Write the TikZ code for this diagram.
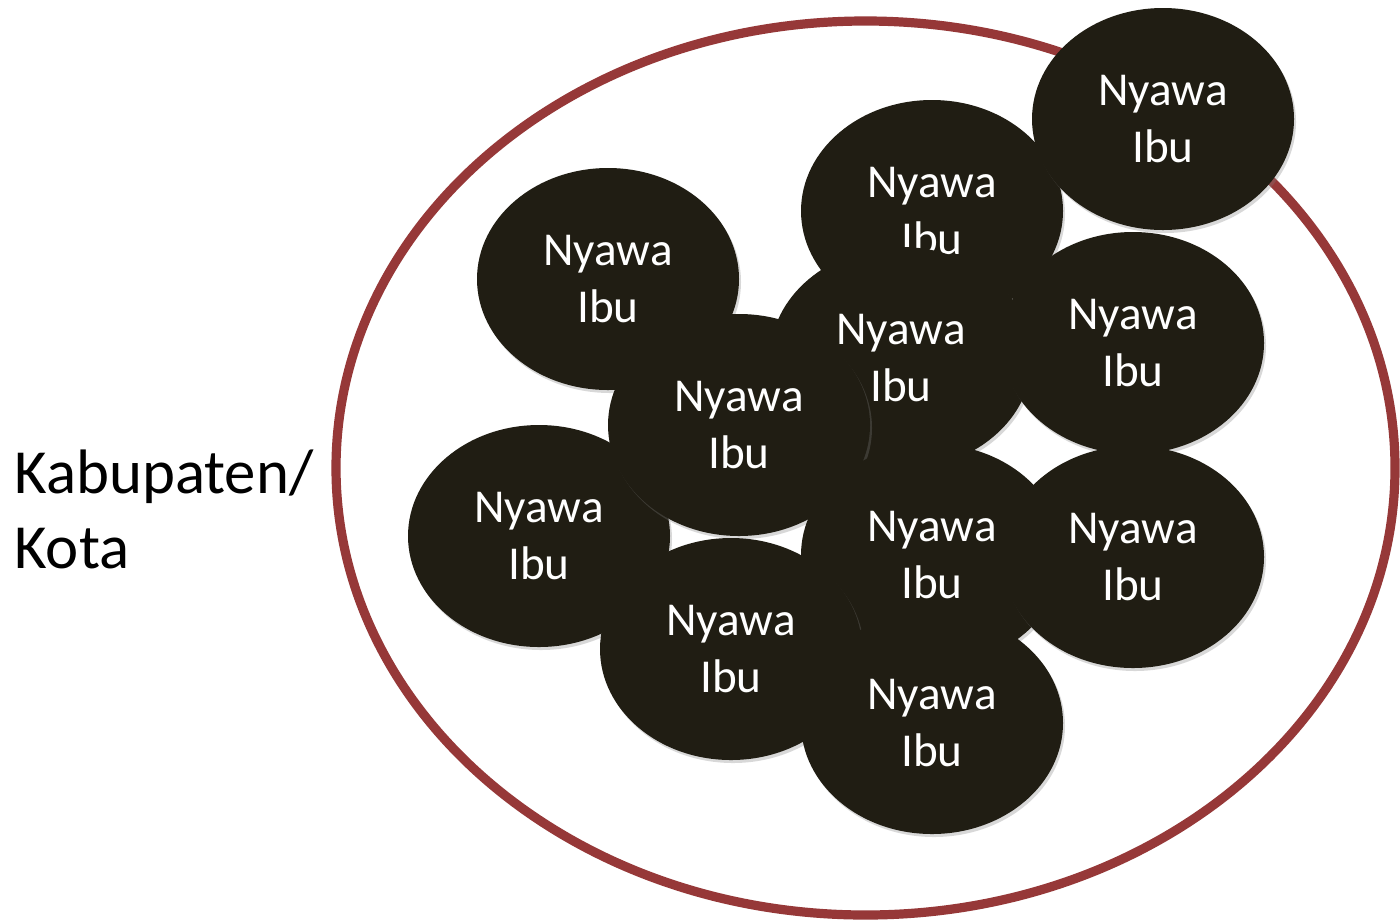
\documentclass[tikz,border=0pt]{standalone}
\usepackage{fontspec}
\setmainfont{Carlito}
\usetikzlibrary{shapes.geometric,shadows}
\definecolor{ibufill}{RGB}{32,29,19}
\definecolor{ringred}{RGB}{150,56,56}

\begin{document}
\begin{tikzpicture}[x=0.5pt,y=-0.5pt]
\tikzset{IbuStyle/.style={ellipse,fill=ibufill,text=white,minimum width=131pt,minimum height=111pt,inner sep=0pt,align=center,font=\fontsize{23.6}{28.5}\selectfont,drop shadow={opacity=0.3,shadow xshift=1pt,shadow yshift=-1.5pt}}}
\tikzset{RingStyle/.style={ellipse,draw=ringred,line width=4.6pt,minimum width=529.5pt,minimum height=447pt,inner sep=0pt}}
\useasboundingbox[fill=white] (0,0) rectangle (1400,922);
\node[RingStyle] (kab) at (865.5,468) {};
\node[anchor=west,inner sep=0pt,align=left,font=\fontsize{31.4}{37.5}\selectfont] (kabLabel) at (14,509) {Kabupaten/\\Kota};
\node[IbuStyle] (ibuTopMid) at (932,211) {Nyawa\\Ibu};
\node[IbuStyle] (ibuTopRight) at (1163,119) {Nyawa\\Ibu};
\node[IbuStyle] (ibuUpLeft) at (608,279) {Nyawa\\Ibu};
\node[IbuStyle] (ibuLowLeft) at (539,536) {Nyawa\\Ibu};
\node[IbuStyle] (ibuMid) at (901,358) {Nyawa\\Ibu};
\node[IbuStyle] (ibuMidRight) at (1133,343) {Nyawa\\Ibu};
\node[IbuStyle] (ibuMidLeft) at (739,425) {Nyawa\\Ibu};
\node[IbuStyle] (ibuCenter) at (932,555) {Nyawa\\Ibu};
\node[IbuStyle] (ibuLowRight) at (1133,557) {Nyawa\\Ibu};
\node[IbuStyle] (ibuBotLeft) at (731,649) {Nyawa\\Ibu};
\node[IbuStyle] (ibuBottom) at (932,723) {Nyawa\\Ibu};
\end{tikzpicture}
\end{document}
